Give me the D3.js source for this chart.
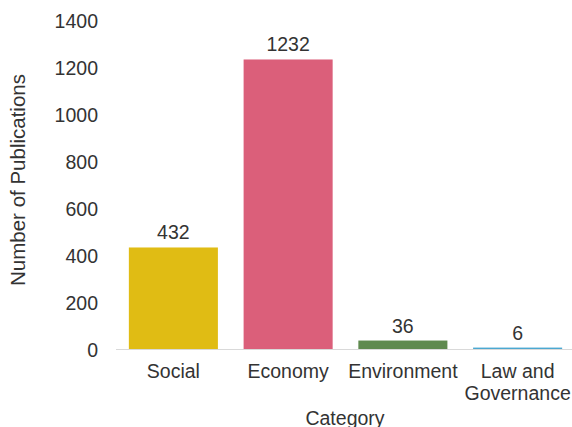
<!DOCTYPE html>
<html>
<head>
<meta charset="utf-8">
<script src="https://cdn.jsdelivr.net/npm/d3@7"></script>
<style>
  body { margin: 0; background: #fff; }
  text { font-family: "Liberation Sans", Arial, sans-serif; fill: #333; }
</style>
</head>
<body>
<script>
// categories and counts
var categories = ['Social', 'Economy', 'Environment', 'Law and Governance'];
var categoryLines = [['Social'], ['Economy'], ['Environment'], ['Law and', 'Governance']];
var publications = [432, 1232, 36, 6];
var barColors = ['#e0bc14', '#db5f7a', '#5f8a4f', '#4ba8d1'];
var yTicks = [0, 200, 400, 600, 800, 1000, 1200, 1400];

var svgWidth = 572;
var svgHeight = 427;
var plotLeft = 116;
var plotRight = 575;
var plotTop = 20;
var plotBottom = 349;
var fontSize = '19.5px';

var svg = d3.select('body').append('svg')
    .attr('width', svgWidth)
    .attr('height', svgHeight);

var xScale = d3.scaleBand()
    .domain(categories)
    .range([plotLeft, plotRight])
    .paddingInner(0.224)
    .paddingOuter(0.112);

var yScale = d3.scaleLinear()
    .domain([0, 1400])
    .range([plotBottom, plotTop]);

// y axis, labels only
var yAxis = d3.axisLeft(yScale)
    .tickValues(yTicks)
    .tickFormat(d3.format('d'))
    .tickSize(0)
    .tickPadding(0);

var yG = svg.append('g')
    .attr('transform', 'translate(98,0)')
    .call(yAxis);
yG.select('.domain').remove();
yG.selectAll('text')
    .style('font-size', fontSize)
    .attr('fill', '#333')
    .attr('dy', '0.36em');

// bars
svg.selectAll('rect.bar')
    .data(publications)
    .enter()
    .append('rect')
    .attr('class', 'bar')
    .attr('x', function(d, i) { return xScale(categories[i]); })
    .attr('y', function(d) { return yScale(d); })
    .attr('width', xScale.bandwidth())
    .attr('height', function(d) { return plotBottom - yScale(d); })
    .attr('fill', function(d, i) { return barColors[i]; });

// baseline
svg.append('line')
    .attr('x1', plotLeft)
    .attr('x2', svgWidth)
    .attr('y1', yScale(0) + 0.5)
    .attr('y2', yScale(0) + 0.5)
    .attr('stroke', '#d9d9d9')
    .attr('stroke-width', 1);

// value labels
svg.selectAll('text.value')
    .data(publications)
    .enter()
    .append('text')
    .attr('class', 'value')
    .attr('x', function(d, i) { return xScale(categories[i]) + xScale.bandwidth() / 2; })
    .attr('y', function(d) { return yScale(d) - 8; })
    .attr('text-anchor', 'middle')
    .style('font-size', fontSize)
    .text(function(d) { return d; });

// category labels (can wrap)
var catG = svg.selectAll('text.cat')
    .data(categoryLines)
    .enter()
    .append('text')
    .attr('class', 'cat')
    .attr('text-anchor', 'middle')
    .style('font-size', fontSize);

catG.selectAll('tspan')
    .data(function(d, i) {
        return d.map(function(line) { return { line: line, i: i }; });
    })
    .enter()
    .append('tspan')
    .attr('x', function(d) { return xScale(categories[d.i]) + xScale.bandwidth() / 2; })
    .attr('y', function(d, j) { return 378 + j * 22; })
    .text(function(d) { return d.line; });

// axis titles
svg.append('text')
    .attr('x', 345)
    .attr('y', 425)
    .attr('text-anchor', 'middle')
    .style('font-size', fontSize)
    .text('Category');

svg.append('text')
    .attr('transform', 'translate(25,180) rotate(-90)')
    .attr('text-anchor', 'middle')
    .style('font-size', '20.5px')
    .text('Number of Publications');
</script>
</body>
</html>
